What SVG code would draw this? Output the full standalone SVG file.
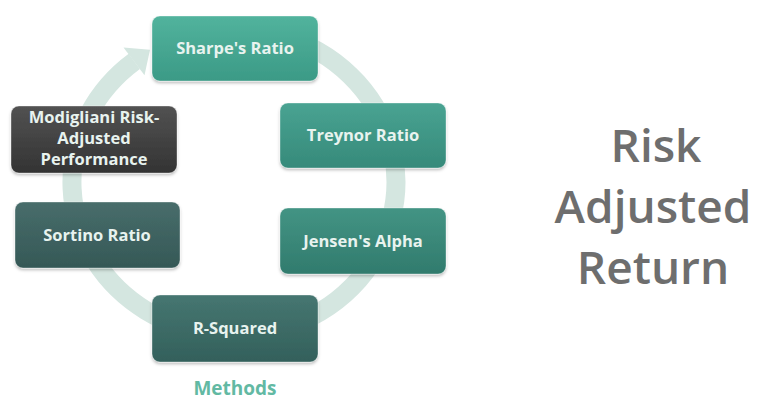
<svg xmlns="http://www.w3.org/2000/svg" width="758" height="403" viewBox="0 0 758 403">
<defs>
<linearGradient id="gSharpe" x1="0" y1="0" x2="0" y2="1"><stop offset="0" stop-color="#52b39d"/><stop offset="1" stop-color="#3b9a86"/></linearGradient>
<linearGradient id="gTreynor" x1="0" y1="0" x2="0" y2="1"><stop offset="0" stop-color="#49a392"/><stop offset="1" stop-color="#368a7a"/></linearGradient>
<linearGradient id="gJensen" x1="0" y1="0" x2="0" y2="1"><stop offset="0" stop-color="#439484"/><stop offset="1" stop-color="#317b6d"/></linearGradient>
<linearGradient id="gR" x1="0" y1="0" x2="0" y2="1"><stop offset="0" stop-color="#467671"/><stop offset="1" stop-color="#33605b"/></linearGradient>
<linearGradient id="gSortino" x1="0" y1="0" x2="0" y2="1"><stop offset="0" stop-color="#486d6b"/><stop offset="1" stop-color="#355856"/></linearGradient>
<linearGradient id="gMod" x1="0" y1="0" x2="0" y2="1"><stop offset="0" stop-color="#525252"/><stop offset="1" stop-color="#333333"/></linearGradient>
<filter id="sh" x="-10%" y="-10%" width="120%" height="130%"><feDropShadow dx="0" dy="2" stdDeviation="1.5" flood-color="#000" flood-opacity="0.25"/></filter>
</defs>
<style>
.box{stroke:#ffffff;stroke-opacity:0.35;stroke-width:1;filter:url(#sh)}
.lbl{font-family:"Open Sans","DejaVu Sans",sans-serif;font-weight:700;font-size:16.5px;fill:#e8f3ef;text-anchor:middle}
.big{font-family:"Open Sans","DejaVu Sans",sans-serif;font-weight:600;font-size:46px;fill:#6e6e6e;text-anchor:middle}
.ring{fill:none;stroke:#d4e6e0;stroke-width:19}
</style>
<rect width="758" height="403" fill="#ffffff"/>
<g id="connectors">
<path class="ring" d="M219.9,29.6 A162,153 0 1 1 134.3,61.4"/>
<polygon points="150,49.8 144.5,75.2 123.5,47.5" fill="#d4e6e0"/>
</g>
<g id="sharpe"><rect class="box" x="152" y="16" width="166" height="65" rx="8" fill="url(#gSharpe)"/><text class="lbl" x="235" y="54">Sharpe's Ratio</text></g>
<g id="treynor"><rect class="box" x="280" y="103" width="166" height="65" rx="8" fill="url(#gTreynor)"/><text class="lbl" x="363" y="141">Treynor Ratio</text></g>
<g id="jensen"><rect class="box" x="280" y="208" width="166" height="66" rx="8" fill="url(#gJensen)"/><text class="lbl" x="363" y="247">Jensen's Alpha</text></g>
<g id="rsquared"><rect class="box" x="152" y="295" width="166" height="67" rx="8" fill="url(#gR)"/><text class="lbl" x="235" y="334">R-Squared</text></g>
<g id="sortino"><rect class="box" x="15" y="202" width="165" height="66" rx="8" fill="url(#gSortino)"/><text class="lbl" x="97" y="241">Sortino Ratio</text></g>
<g id="modigliani"><rect class="box" x="11" y="106" width="166" height="67" rx="8" fill="url(#gMod)"/><text class="lbl" x="94" y="123">Modigliani Risk-</text><text class="lbl" x="94" y="144">Adjusted</text><text class="lbl" x="94" y="165">Performance</text></g>
<g id="methods"><text x="235" y="395" style="font-family:'Open Sans','DejaVu Sans',sans-serif;font-weight:700;font-size:19px;fill:#62b9a3;text-anchor:middle">Methods</text></g>
<g id="title"><text class="big" x="656" y="162">Risk</text><text class="big" x="653" y="223">Adjusted</text><text class="big" x="653" y="284">Return</text></g>
</svg>
